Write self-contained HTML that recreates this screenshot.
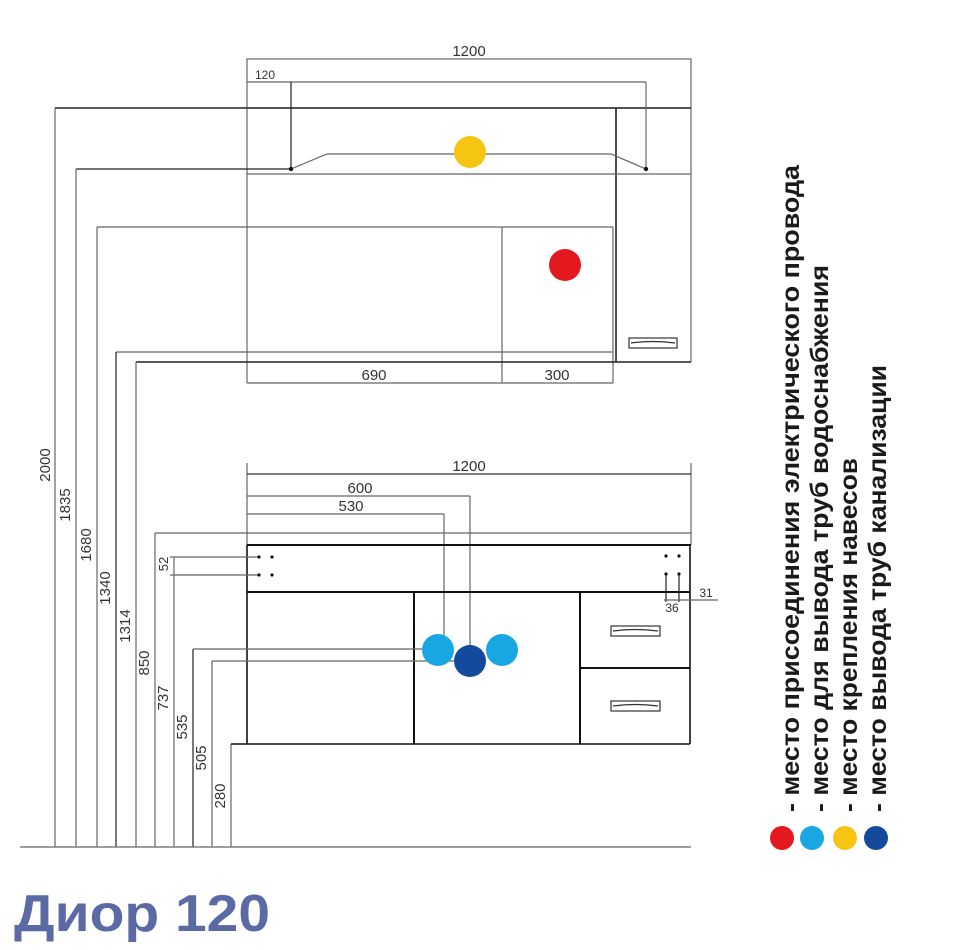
<!DOCTYPE html>
<html><head><meta charset="utf-8"><style>
html,body{margin:0;padding:0;background:#fff;}
svg{display:block;}
.t{font-family:"Liberation Sans",sans-serif;font-size:15px;fill:#333;}
</style></head><body>
<svg width="975" height="950" viewBox="0 0 975 950" xmlns="http://www.w3.org/2000/svg">
<g fill="none" stroke="#666" stroke-width="1.2">
<rect x="247" y="59" width="444" height="49"/>
<line x1="247" y1="82" x2="646" y2="82"/>
<line x1="55" y1="108" x2="691" y2="108" stroke="#222" stroke-width="1.6"/>
<line x1="247" y1="108" x2="247" y2="383"/>
<line x1="691" y1="108" x2="691" y2="362"/>
<line x1="616" y1="108" x2="616" y2="362" stroke="#222" stroke-width="1.6"/>
<line x1="247" y1="174" x2="691" y2="174"/>
<polyline points="291,169 327,154 611,154 646,169"/>
<line x1="76" y1="169" x2="291" y2="169" stroke="#222"/>
<line x1="291" y1="82" x2="291" y2="169" stroke="#222"/>
<line x1="646" y1="82" x2="646" y2="169"/>
<line x1="97" y1="227" x2="613" y2="227"/>
<line x1="613" y1="227" x2="613" y2="383"/>
<line x1="502" y1="227" x2="502" y2="383"/>
<line x1="116" y1="352" x2="613" y2="352"/>
<line x1="136" y1="362" x2="691" y2="362" stroke="#222" stroke-width="1.6"/>
<line x1="247" y1="383" x2="613" y2="383"/>
<rect x="629" y="338" width="48" height="10" stroke="#333"/>
<path d="M631 343 Q653 340 675 343" stroke="#333"/>
<line x1="55" y1="108" x2="55" y2="847"/>
<line x1="76" y1="169" x2="76" y2="847"/>
<line x1="97" y1="227" x2="97" y2="847"/>
<line x1="116" y1="352" x2="116" y2="847" stroke="#222"/>
<line x1="136" y1="362" x2="136" y2="847"/>
<line x1="155" y1="533" x2="155" y2="847"/>
<line x1="174" y1="557" x2="174" y2="847"/>
<line x1="193" y1="649" x2="193" y2="847" stroke="#222"/>
<line x1="212" y1="661" x2="212" y2="847"/>
<line x1="231" y1="744" x2="231" y2="847"/>
<line x1="20" y1="847" x2="691" y2="847"/>
<line x1="247" y1="463" x2="247" y2="545"/>
<line x1="691" y1="463" x2="691" y2="545"/>
<line x1="247" y1="474" x2="691" y2="474" stroke="#333"/>
<line x1="247" y1="496" x2="470" y2="496"/>
<line x1="470" y1="496" x2="470" y2="660"/>
<line x1="247" y1="514" x2="444" y2="514"/>
<line x1="444" y1="514" x2="444" y2="650"/>
<line x1="155" y1="533" x2="691" y2="533"/>
<line x1="247" y1="545" x2="691" y2="545" stroke="#111" stroke-width="2"/>
<line x1="247" y1="545" x2="247" y2="744" stroke="#111" stroke-width="1.6"/>
<line x1="690" y1="545" x2="690" y2="744" stroke="#111" stroke-width="1.6"/>
<line x1="247" y1="592" x2="690" y2="592" stroke="#111" stroke-width="2"/>
<line x1="414" y1="592" x2="414" y2="744" stroke="#111" stroke-width="2"/>
<line x1="580" y1="592" x2="580" y2="744" stroke="#111" stroke-width="2"/>
<line x1="580" y1="668" x2="690" y2="668" stroke="#111" stroke-width="2"/>
<line x1="231" y1="744" x2="690" y2="744" stroke="#111" stroke-width="1.6"/>
<line x1="170" y1="557" x2="259" y2="557"/>
<line x1="170" y1="575" x2="259" y2="575"/>
<line x1="193" y1="649" x2="424" y2="649"/>
<line x1="212" y1="661" x2="454" y2="661"/>
<rect x="611" y="626" width="49" height="10" stroke="#333"/>
<path d="M613 631 Q635 628 658 631" stroke="#333"/>
<rect x="611" y="701" width="49" height="10" stroke="#333"/>
<path d="M613 706 Q635 703 658 706" stroke="#333"/>
<line x1="666" y1="574" x2="666" y2="602" stroke="#222"/>
<line x1="679" y1="574" x2="679" y2="602" stroke="#222"/>
<line x1="664" y1="600" x2="718" y2="600"/>
</g>
<g fill="#111">
<circle cx="291" cy="169" r="2.2"/><circle cx="646" cy="169" r="2.2"/>
<circle cx="259" cy="557" r="1.6"/><circle cx="272" cy="557" r="1.6"/>
<circle cx="259" cy="575" r="1.6"/><circle cx="272" cy="575" r="1.6"/>
<circle cx="666" cy="556" r="1.6"/><circle cx="679" cy="556" r="1.6"/>
<circle cx="666" cy="574" r="1.6"/><circle cx="679" cy="574" r="1.6"/>
</g>
<circle cx="470" cy="152" r="16" fill="#f6c514"/>
<circle cx="565" cy="265" r="16" fill="#e3191f"/>
<circle cx="438" cy="650" r="16" fill="#19a7e3"/>
<circle cx="502" cy="650" r="16" fill="#19a7e3"/>
<circle cx="470" cy="661" r="16" fill="#134a9c"/>
<g class="t" text-anchor="middle">
<text x="469" y="56">1200</text>
<text x="265" y="79" font-size="12">120</text>
<text x="374" y="380">690</text>
<text x="557" y="380">300</text>
<text x="469" y="471">1200</text>
<text x="360" y="493">600</text>
<text x="351" y="511">530</text>
<text x="706" y="597" font-size="12">31</text>
<text x="672" y="612" font-size="12">36</text>
<text transform="translate(50,465) rotate(-90)">2000</text>
<text transform="translate(70,505) rotate(-90)">1835</text>
<text transform="translate(91,545) rotate(-90)">1680</text>
<text transform="translate(110,588) rotate(-90)">1340</text>
<text transform="translate(130,626) rotate(-90)">1314</text>
<text transform="translate(149,663) rotate(-90)">850</text>
<text transform="translate(168,698) rotate(-90)">737</text>
<text transform="translate(187,727) rotate(-90)">535</text>
<text transform="translate(206,758) rotate(-90)">505</text>
<text transform="translate(225,796) rotate(-90)">280</text>
<text transform="translate(168,564) rotate(-90)" font-size="13">52</text>
</g>
<g font-family="Liberation Sans, sans-serif" font-weight="bold" font-size="25" fill="#1a1a1a">
<text transform="translate(799,812) rotate(-90)" textLength="647" lengthAdjust="spacingAndGlyphs">- место присоединения электрического провода</text>
<text transform="translate(828,812) rotate(-90)" textLength="547" lengthAdjust="spacingAndGlyphs">- место для вывода труб водоснабжения</text>
<text transform="translate(857,812) rotate(-90)" textLength="354" lengthAdjust="spacingAndGlyphs">- место крепления навесов</text>
<text transform="translate(886,812) rotate(-90)" textLength="447" lengthAdjust="spacingAndGlyphs">- место вывода труб канализации</text>
</g>
<circle cx="782" cy="838" r="12" fill="#e3191f"/>
<circle cx="812" cy="838" r="12" fill="#19a7e3"/>
<circle cx="845" cy="838" r="12" fill="#f6c514"/>
<circle cx="876" cy="838" r="12" fill="#134a9c"/>
<text x="14" y="931" font-family="Liberation Sans, sans-serif" font-weight="bold" font-size="52" fill="#5b6aa5" textLength="256" lengthAdjust="spacingAndGlyphs">Диор 120</text>
</svg>
</body></html>
